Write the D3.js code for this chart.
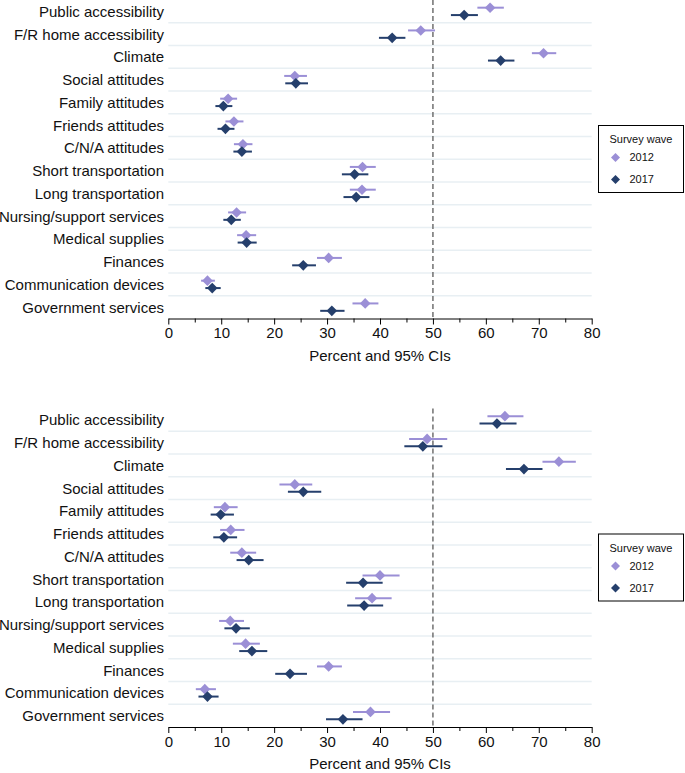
<!DOCTYPE html>
<html>
<head>
<meta charset="utf-8">
<script src="https://cdn.jsdelivr.net/npm/d3@7"></script>
<style>
  body { margin: 0; background: #fff; }
  svg { display: block; font-family: "Liberation Sans", Arial, sans-serif; }
</style>
</head>
<body>
<div id="chart"></div>
<script>
// categories, top to bottom
var categories = ["Public accessibility", "F/R home accessibility", "Climate", "Social attitudes",
  "Family attitudes", "Friends attitudes", "C/N/A attitudes", "Short transportation",
  "Long transportation", "Nursing/support services", "Medical supplies", "Finances",
  "Communication devices", "Government services"];

var waves = ["2012", "2017"];
var xTicks = [0, 10, 20, 30, 40, 50, 60, 70, 80];
var xMinorTicks = [5, 15, 25, 35, 45, 55, 65, 75];
var refLine = 50;

// top panel
var top2012 = [60.8, 47.7, 70.9, 23.9, 11.3, 12.4, 14.1, 36.7, 36.6, 12.9, 14.7, 30.3, 7.4, 37.2];
var top2012lo = [58.4, 45.3, 68.7, 21.9, 9.8, 10.8, 12.4, 34.3, 34.3, 11.3, 13.0, 28.1, 6.2, 34.8];
var top2012hi = [63.4, 50.4, 73.3, 26.2, 13.0, 14.2, 15.9, 39.2, 39.2, 14.7, 16.6, 32.8, 8.8, 39.7];
var top2017 = [55.9, 42.3, 62.8, 24.1, 10.4, 10.8, 13.9, 35.2, 35.5, 11.9, 14.8, 25.5, 8.3, 30.9];
var top2017lo = [53.4, 39.8, 60.4, 22.1, 8.9, 9.3, 12.3, 32.8, 33.1, 10.4, 13.1, 23.4, 7.0, 28.7];
var top2017hi = [58.5, 44.8, 65.4, 26.4, 12.1, 12.5, 15.8, 37.8, 38.0, 13.7, 16.7, 27.9, 9.9, 33.3];

// bottom panel
var bot2012 = [63.6, 48.9, 73.8, 23.9, 10.7, 11.8, 13.9, 40.0, 38.5, 11.7, 14.6, 30.3, 6.9, 38.2];
var bot2012lo = [60.3, 45.5, 70.7, 21.0, 8.6, 9.8, 11.7, 36.7, 35.3, 9.6, 12.2, 28.1, 5.2, 34.9];
var bot2012hi = [67.1, 52.7, 77.0, 27.2, 13.1, 14.4, 16.6, 43.7, 42.2, 14.3, 17.3, 32.8, 9.0, 41.9];
var bot2017 = [62.1, 48.1, 67.2, 25.5, 9.9, 10.5, 15.2, 36.8, 37.0, 12.8, 15.8, 23.0, 7.4, 33.0];
var bot2017lo = [58.8, 44.6, 63.8, 22.6, 8.0, 8.5, 12.9, 33.6, 33.8, 10.6, 13.4, 20.2, 5.7, 29.8];
var bot2017hi = [65.8, 51.8, 70.7, 28.9, 12.4, 13.0, 18.0, 40.5, 40.6, 15.4, 18.7, 26.2, 9.5, 36.7];

var width = 685, height = 773;
var colors = {"2012": "#9b8fd6", "2017": "#253f6c"};

var svg = d3.select("#chart").append("svg")
    .attr("width", width)
    .attr("height", height);

var x = d3.scaleLinear().domain([0, 80]).range([168.3, 591.7]);

function diamond(s) {
  return "M0," + (-s) + "L" + s + ",0L0," + s + "L" + (-s) + ",0Z";
}

function drawPanel(top, series) {
  var plotH = 318.5;
  var g = svg.append("g").attr("transform", "translate(0," + top + ")");

  var y = d3.scaleBand().domain(categories).range([0, plotH]).padding(0);
  var off = { "2012": -3.7, "2017": 3.7 };

  // gridlines between rows
  g.append("g").selectAll("line")
    .data(categories.slice(1))
    .enter().append("line")
    .attr("x1", x.range()[0]).attr("x2", x.range()[1])
    .attr("y1", function(d) { return y(d); })
    .attr("y2", function(d) { return y(d); })
    .attr("stroke", "#e8eff3")
    .attr("stroke-width", 1.5);

  // category labels
  g.append("g").selectAll("text")
    .data(categories)
    .enter().append("text")
    .attr("x", 164)
    .attr("y", function(d) { return y(d) + y.bandwidth() / 2; })
    .attr("dy", "0.36em")
    .attr("text-anchor", "end")
    .attr("font-size", 15)
    .attr("fill", "#111")
    .text(function(d) { return d; });

  // reference line
  g.append("line")
    .attr("x1", x(refLine)).attr("x2", x(refLine))
    .attr("y1", 0).attr("y2", plotH)
    .attr("stroke", "#707070")
    .attr("stroke-width", 1.5)
    .attr("stroke-dasharray", "5,3");

  // axis
  var axis = g.append("g")
    .attr("transform", "translate(0," + plotH + ")")
    .call(d3.axisBottom(x).tickValues(xTicks).tickSize(6).tickSizeOuter(0));
  axis.select(".domain").attr("stroke", "#000");
  axis.selectAll("text").attr("font-size", 15).attr("fill", "#111")
    .attr("font-family", "Liberation Sans, Arial, sans-serif");
  g.append("g")
    .attr("transform", "translate(0," + plotH + ")")
    .call(d3.axisBottom(x).tickValues(xMinorTicks).tickSize(4).tickFormat(""))
    .select(".domain").remove();

  g.append("text")
    .attr("x", (x.range()[0] + x.range()[1]) / 2)
    .attr("y", plotH + 42)
    .attr("text-anchor", "middle")
    .attr("font-size", 15)
    .attr("fill", "#111")
    .text("Percent and 95% CIs");

  // error bars and points
  waves.forEach(function(w) {
    var s = series[w];
    var rows = categories.map(function(c, i) {
      return { cat: c, est: s.est[i], lo: s.lo[i], hi: s.hi[i] };
    });
    var wg = g.append("g");
    wg.selectAll("line")
      .data(rows)
      .enter().append("line")
      .attr("x1", function(d) { return x(d.lo); })
      .attr("x2", function(d) { return x(d.hi); })
      .attr("y1", function(d) { return y(d.cat) + y.bandwidth() / 2 + off[w]; })
      .attr("y2", function(d) { return y(d.cat) + y.bandwidth() / 2 + off[w]; })
      .attr("stroke", colors[w])
      .attr("stroke-width", 2);
    wg.selectAll("path")
      .data(rows)
      .enter().append("path")
      .attr("transform", function(d) {
        return "translate(" + x(d.est) + "," + (y(d.cat) + y.bandwidth() / 2 + off[w]) + ")";
      })
      .attr("d", diamond(5.3))
      .attr("fill", colors[w]);
  });

  // legend
  var lg = g.append("g").attr("transform", "translate(598.5,125.5)");
  lg.append("rect")
    .attr("width", 85).attr("height", 67)
    .attr("fill", "#fff")
    .attr("stroke", "#000");
  lg.append("text")
    .attr("x", 42.5).attr("y", 17.5)
    .attr("text-anchor", "middle")
    .attr("font-size", 11)
    .attr("fill", "#111")
    .text("Survey wave");
  waves.forEach(function(w, i) {
    var yy = 32 + i * 22;
    lg.append("path")
      .attr("transform", "translate(17," + yy + ")")
      .attr("d", diamond(4.5))
      .attr("fill", colors[w]);
    lg.append("text")
      .attr("x", 31).attr("y", yy)
      .attr("dy", "0.36em")
      .attr("font-size", 11)
      .attr("fill", "#111")
      .text(w);
  });
}

drawPanel(0, {
  "2012": { est: top2012, lo: top2012lo, hi: top2012hi },
  "2017": { est: top2017, lo: top2017lo, hi: top2017hi }
});
drawPanel(408.5, {
  "2012": { est: bot2012, lo: bot2012lo, hi: bot2012hi },
  "2017": { est: bot2017, lo: bot2017lo, hi: bot2017hi }
});
</script>
</body>
</html>
